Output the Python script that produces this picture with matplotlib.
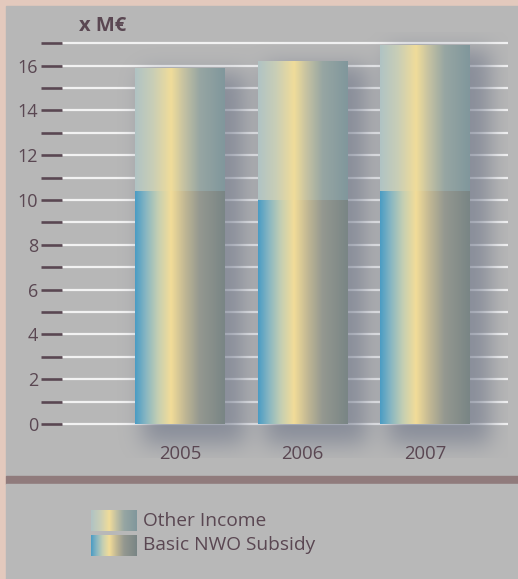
import numpy as np
import matplotlib.pyplot as plt
from matplotlib.colors import LinearSegmentedColormap
from matplotlib.patches import Rectangle

# data (x M€)
years = ['2005', '2006', '2007']
basic_subsidy = [10.4, 10.0, 10.4]
other_income = [5.5, 6.2, 6.5]
series_names = ['Other Income', 'Basic NWO Subsidy']

txt_col = '#5a4752'
cmap_basic = LinearSegmentedColormap.from_list('basic', [
    (0.0, '#4a9cc4'), (0.12, '#88b6c2'), (0.26, '#c6cfb2'), (0.40, '#f2dc98'),
    (0.55, '#c2b894'), (0.72, '#949890'), (1.0, '#798585')])
cmap_other = LinearSegmentedColormap.from_list('other', [
    (0.0, '#b0c3c4'), (0.2, '#c9ceb6'), (0.40, '#f0dc9a'), (0.55, '#c3c1a2'),
    (0.72, '#97a6a3'), (1.0, '#80979c')])
grad = np.linspace(0, 1, 256).reshape(1, -1)

plt.rcParams['font.family'] = ['Open Sans', 'DejaVu Sans']
fig = plt.figure(figsize=(5.18, 5.79), dpi=100)
fig.patch.set_facecolor('#e3c9bd')

# background panels (pixel based)
W, H = 518, 579
def px_rect(x0, y0, x1, y1, color):
    fig.patches.append(Rectangle((x0 / W, 1 - y1 / H), (x1 - x0) / W, (y1 - y0) / H,
                                 transform=fig.transFigure, color=color, zorder=-5))
px_rect(6, 6, 518, 476, '#b7b7b7')
px_rect(6, 476, 518, 484, '#907b7c')
px_rect(6, 484, 518, 579, '#b8b8b8')

ax = fig.add_axes([62 / W, (579 - 457.6) / H, 446 / W, 425.6 / H])
ax.set_facecolor('none')
xlim = (-0.962, 2.673)
ylim = (-1.5, 17.5)
x = np.arange(len(years))
width = 0.733

# grid lines
ax.hlines(np.arange(0, 18), xlim[0], xlim[1], color='#f2f2f2', lw=1.6, zorder=1)

totals = np.array(basic_subsidy) + np.array(other_income)

# soft drop shadow built from the bar rectangles
nx, ny = 446, 426
gx = np.linspace(xlim[0], xlim[1], nx)
gy = np.linspace(ylim[0], ylim[1], ny)
XX, YY = np.meshgrid(gx, gy)
mask = np.zeros_like(XX)
for xi, t in zip(x, totals):
    mask[(XX > xi - width / 2 + 0.06) & (XX < xi + width / 2 + 0.16)
         & (YY > -0.9) & (YY < t - 0.2)] = 1.0
k = np.exp(-0.5 * (np.arange(-30, 31) / 11.0) ** 2)
k /= k.sum()
mask = np.apply_along_axis(lambda r: np.convolve(r, k, mode='same'), 1, mask)
mask = np.apply_along_axis(lambda c: np.convolve(c, k, mode='same'), 0, mask)
shadow = np.zeros((ny, nx, 4))
shadow[..., :3] = np.array([0x6a, 0x72, 0x86]) / 255
shadow[..., 3] = 0.6 * mask
ax.imshow(shadow, extent=(xlim[0], xlim[1], ylim[0], ylim[1]), origin='lower',
          aspect='auto', zorder=2, interpolation='bilinear')

# gradient bars
b1 = ax.bar(x, basic_subsidy, width, facecolor='none', edgecolor='none', zorder=3)
b2 = ax.bar(x, other_income, width, bottom=basic_subsidy, facecolor='none',
            edgecolor='none', zorder=3)
for bars, cmap in [(b1, cmap_basic), (b2, cmap_other)]:
    for b in bars:
        im = ax.imshow(grad, cmap=cmap, aspect='auto', zorder=3,
                       extent=(b.get_x(), b.get_x() + b.get_width(), b.get_y(),
                               b.get_y() + b.get_height()))
        im.set_clip_path(b)
ax.set_xlim(xlim)
ax.set_ylim(ylim)

# axes styling
for s in ax.spines.values():
    s.set_visible(False)
ax.set_xticks([])
ax.set_yticks(np.arange(0, 17, 2))
ax.set_yticks(np.arange(1, 18, 2), minor=True)
ax.tick_params(axis='y', which='both', length=15, width=1.9, color=txt_col,
               direction='out', pad=2, labelsize=13, labelcolor=txt_col)
for xi, yr in zip(x, years):
    ax.text(xi, -1.35, yr, ha='center', va='center', fontsize=13.3, color=txt_col)

fig.text(79 / W, 1 - 26 / H, 'x M€', fontsize=14.5, fontweight='bold',
         color=txt_col, va='center', ha='left')

# legend
for i, (name, cmap) in enumerate(zip(series_names, [cmap_other, cmap_basic])):
    y0 = 510 + i * 25
    lax = fig.add_axes([91 / W, 1 - (y0 + 21) / H, 46 / W, 21 / H])
    lax.imshow(grad, cmap=cmap, aspect='auto')
    lax.axis('off')
    fig.text(143 / W, 1 - (y0 + 10.5) / H, name, fontsize=13.8, color=txt_col,
             va='center', ha='left')

fig.savefig('out.png', dpi=100, facecolor=fig.get_facecolor())
